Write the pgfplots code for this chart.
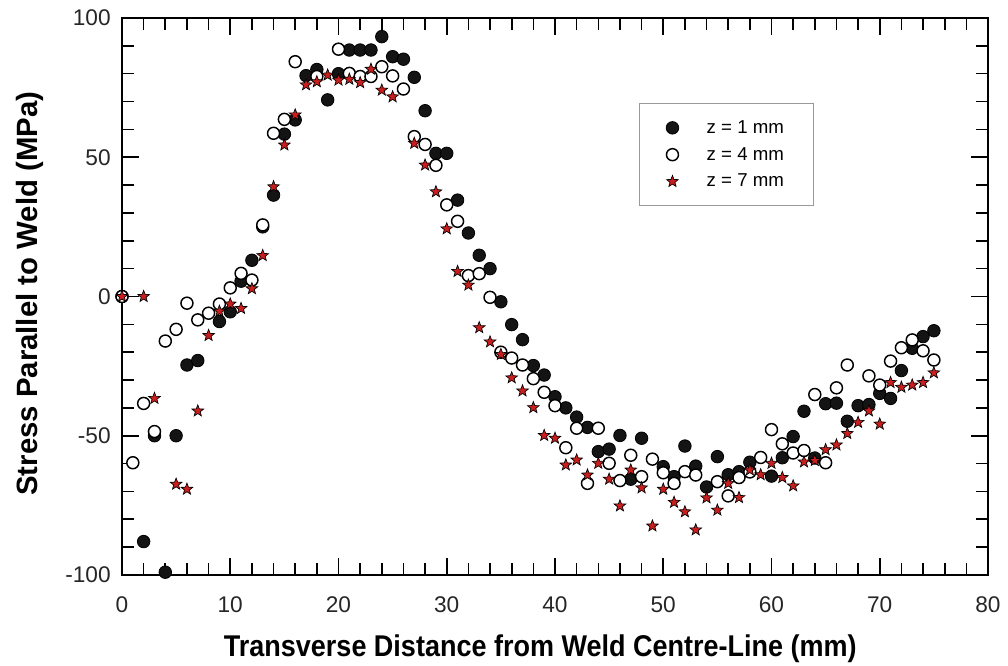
\documentclass[border=0pt]{standalone}
\usepackage{pgfplots}
\pgfplotsset{compat=1.18}
\usepackage{fontspec}
\setmainfont{Liberation Sans}
\newfontfamily\xlabfont[FakeStretch=0.9]{Liberation Sans}
\definecolor{starred}{RGB}{200,30,30}
\pgfdeclareplotmark{fstar}{%
  \pgfpathmoveto{\pgfpointpolar{90}{\pgfplotmarksize}}%
  \pgfpathlineto{\pgfpointpolar{126}{0.42\pgfplotmarksize}}%
  \pgfpathlineto{\pgfpointpolar{162}{\pgfplotmarksize}}%
  \pgfpathlineto{\pgfpointpolar{198}{0.42\pgfplotmarksize}}%
  \pgfpathlineto{\pgfpointpolar{234}{\pgfplotmarksize}}%
  \pgfpathlineto{\pgfpointpolar{270}{0.42\pgfplotmarksize}}%
  \pgfpathlineto{\pgfpointpolar{306}{\pgfplotmarksize}}%
  \pgfpathlineto{\pgfpointpolar{342}{0.42\pgfplotmarksize}}%
  \pgfpathlineto{\pgfpointpolar{18}{\pgfplotmarksize}}%
  \pgfpathlineto{\pgfpointpolar{54}{0.42\pgfplotmarksize}}%
  \pgfpathclose
  \pgfusepathqfillstroke}
\begin{document}
\begin{tikzpicture}
\path[use as bounding box] (-91.5pt,-68.25pt) rectangle (664.5pt,431.25pt);
\begin{axis}[
  at={(0,0)}, anchor=south west,
  scale only axis, width=649.5pt, height=417.75pt,
  xmin=0, xmax=80, ymin=-100, ymax=100,
  xtick={0,10,...,80}, ytick={-100,-50,0,50,100},
  minor x tick num=4, minor y tick num=4,
  tick align=inside,
  major tick length=13pt, minor tick length=9pt,
  every tick/.style={black, line width=1.2pt},
  axis line style={line width=1.5pt},
  tick label style={font=\fontsize{17}{19}\selectfont, text=black!85},
  /pgf/number format/assume math mode=true,
  xticklabel style={yshift=-12.5pt},
  yticklabel style={xshift=-5pt},
  clip=false,
  xlabel={\xlabfont\bfseries Transverse Distance from Weld Centre-Line (mm)},
  ylabel={\bfseries Stress Parallel to Weld (MPa)},
  xlabel style={at={(axis description cs:0.483,0)}, anchor=base, yshift=-61.3pt, font=\fontsize{22.5}{26}\selectfont},
  ylabel style={at={(axis description cs:-0.1062,0.505)}, anchor=center, font=\fontsize{22}{26}\selectfont},
  legend image code/.code={\draw[#1,mark repeat=1] plot coordinates {(0pt,0pt)};},
  legend cell align=left,
  legend style={at={(0.597,0.847)}, anchor=north west, draw=gray!80, line width=0.8pt, fill=white,
    inner xsep=20pt, inner ysep=10.5pt, row sep=5pt, font=\fontsize{14}{16}\selectfont,
    nodes={inner sep=2pt},
    /tikz/every odd column/.append style={column sep=19pt}},
]
\addplot[only marks, mark=*, mark size=4.7pt, mark options={fill=black!92, draw=black, line width=0.6pt}] coordinates {
(0,0) (2,-88) (3,-50) (4,-99) (5,-50) (6,-24.6) (7,-23) (9,-9) (10,-5.5) (11,5.5) (12,13) (13,25) (14,36.4) (15,58.3) (16,63.4) (17,79.3) (18,81.5) (19,70.6) (20,80) (21,88.5) (22,88.5) (23,88.5) (24,93.3) (25,86.1) (26,85.2) (27,78.7) (28,66.7) (29,51.4) (30,51.4) (31,34.6) (32,22.8) (33,14.8) (34,10) (35,-1.9) (36,-10.1) (37,-15.5) (38,-24.8) (39,-28.2) (40,-36) (41,-40) (42,-43.3) (43,-47) (44,-55.7) (45,-54.8) (46,-49.9) (47,-65.6) (48,-50.9) (50,-61.1) (51,-64.7) (52,-53.7) (53,-60.9) (54,-68.4) (55,-57.5) (56,-64) (57,-62.9) (58,-59.5) (60,-64.5) (61,-57.9) (62,-50.3) (63,-41.2) (64,-58) (65,-38.5) (66,-38.3) (67,-44.8) (68,-39.2) (69,-38.8) (70,-34.8) (71,-36.6) (72,-26.6) (73,-18.6) (74,-14.4) (75,-12.3)
};
\addlegendentry{z = 1 mm}
\addplot[only marks, mark=*, mark size=4.5pt, mark options={fill=white, draw=black, line width=1.1pt}] coordinates {
(0,0) (1,-59.7) (2,-38.4) (3,-48.5) (4,-16) (5,-11.8) (6,-2.4) (7,-8.4) (8,-6) (9,-2.7) (10,3.1) (11,8.3) (12,5.9) (13,25.7) (14,58.6) (15,63.6) (16,84.3) (18,79) (20,88.8) (21,80.1) (22,79) (23,79) (24,82.5) (25,79.2) (26,74.5) (27,57.4) (28,54.6) (29,47.1) (30,32.9) (31,27) (32,7.5) (33,8.2) (34,-0.3) (35,-20) (36,-22.1) (37,-24.6) (38,-29.5) (39,-34.4) (40,-39.2) (41,-54.3) (42,-47.3) (43,-67.1) (44,-47.3) (45,-59.9) (46,-66.1) (47,-57) (48,-64.7) (49,-58.4) (50,-63.3) (51,-67.1) (52,-62.9) (53,-64.1) (55,-66.5) (56,-71.6) (57,-65) (58,-63) (59,-57.8) (60,-47.8) (61,-52.9) (62,-56.2) (63,-55.3) (64,-35.2) (65,-59.7) (66,-32.8) (67,-24.6) (69,-28.5) (70,-31.8) (71,-23.2) (72,-18.4) (73,-15.6) (74,-19.5) (75,-22.8)
};
\addlegendentry{z = 4 mm}
\addplot[only marks, mark=fstar, mark size=4.6pt, mark options={fill=starred, draw=black, line width=0.5pt}] coordinates {
(0,0) (2,0) (3,-36.6) (5,-67.4) (6,-69.2) (7,-41.1) (8,-14) (9,-5.3) (10,-2.7) (11,-4.3) (12,2.8) (13,14.7) (14,39.4) (15,54.4) (16,65.2) (17,76) (18,77.1) (19,79.5) (20,77.7) (21,78) (22,76.8) (23,81.6) (24,74.1) (25,71.7) (27,55) (28,47.2) (29,37.6) (30,24.3) (31,9) (32,4.1) (33,-11.2) (34,-16.3) (35,-20.8) (36,-29.2) (37,-33.9) (38,-39.9) (39,-49.9) (40,-50.9) (41,-60.5) (42,-58.7) (43,-64.1) (44,-59.9) (45,-65.6) (46,-75.2) (47,-62.3) (48,-68.7) (49,-82.4) (50,-69.2) (51,-73.9) (52,-77.3) (53,-83.8) (54,-72.3) (55,-76.7) (56,-67.1) (57,-72.2) (58,-62.3) (59,-64) (60,-59.9) (61,-65) (62,-68) (63,-59.4) (64,-58.9) (65,-55) (66,-53.3) (67,-49.2) (68,-45.2) (69,-41.1) (70,-45.8) (71,-30.9) (72,-32.6) (73,-31.8) (74,-30.9) (75,-27.4)
};
\addlegendentry{z = 7 mm}
\end{axis}
\end{tikzpicture}
\end{document}
